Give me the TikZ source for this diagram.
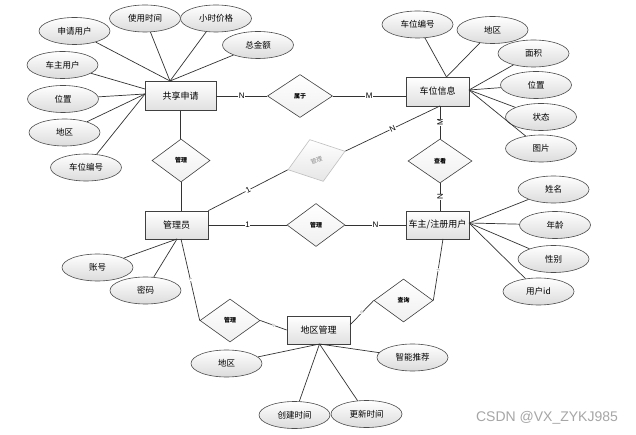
\documentclass[tikz,border=0pt]{standalone}
\usepackage{fontspec}
\setsansfont{Liberation Sans}
\newfontfamily\cjk{Noto Sans CJK SC}
\usetikzlibrary{shapes.geometric}
\begin{document}
\begin{tikzpicture}[x=1pt,y=-1pt,
  conn/.style={draw=black!80,line width=0.7pt},
  attr/.style={ellipse,draw=black!70,line width=0.6pt,top color=white,bottom color=black!14,
    minimum width=71pt,minimum height=27pt,inner sep=0pt,font=\cjk\fontsize{8.5}{10}\selectfont},
  ent/.style={rectangle,draw=black!75,line width=0.7pt,top color=white,bottom color=black!12,
    minimum width=63pt,minimum height=29pt,inner sep=0pt,font=\cjk\fontsize{9}{11}\selectfont},
  rel/.style={diamond,draw=black!75,line width=0.6pt,top color=white,bottom color=black!6,
    minimum width=58pt,minimum height=43pt,inner sep=0pt,font=\cjk\bfseries\fontsize{6}{7}\selectfont},
  card/.style={fill=white,inner sep=0.5pt,font=\sffamily\fontsize{8}{9}\selectfont},
  tiny/.style={fill=white,inner sep=0.3pt,text=black!50,font=\sffamily\fontsize{4}{5}\selectfont}]
\useasboundingbox (0,0) rectangle (636,435);
\fill[white] (0,0) rectangle (636,435);

% entities
\node[ent,minimum width=71pt] (sq) at (180.5,96) {共享申请};
\node[ent] (cw) at (437.5,91.5) {车位信息};
\node[ent,minimum height=28pt] (gly) at (176.5,225) {管理员};
\node[ent,minimum height=28pt] (cz) at (437.5,225) {车主/注册用户};
\node[ent,minimum height=28pt] (dq) at (318.5,330) {地区管理};

% relationships
\node[rel,minimum width=65pt] (sy) at (300,96) {属于};
\node[rel] (gl1) at (181,160.5) {管理};
\node[rel,minimum width=60pt,minimum height=44pt,rotate=18,draw=black!25,
      top color=white,bottom color=black!10,text=black!45,font=\cjk\fontsize{6}{7}\selectfont] (glg) at (316.5,160.5) {管理};
\node[rel,minimum width=64pt,minimum height=44pt] (ck) at (440,161) {查看};
\node[rel] (gl2) at (316,225) {管理};
\node[rel,minimum width=60pt] (gl3) at (230,320.5) {管理};
\node[rel,minimum width=59pt] (cx) at (403.5,300.5) {查询};

% attributes of 共享申请
\node[attr] (a1) at (74.5,31) {申请用户};
\node[attr] (a2) at (145,18.5) {使用时间};
\node[attr] (a3) at (216,18.5) {小时价格};
\node[attr] (a4) at (258,45) {总金额};
\node[attr] (a5) at (62.5,65) {车主用户};
\node[attr] (a6) at (63,99) {位置};
\node[attr] (a7) at (64.5,132.5) {地区};
\node[attr] (a8) at (86,167.5) {车位编号};
% attributes of 车位信息
\node[attr] (b1) at (417.5,24.5) {车位编号};
\node[attr] (b2) at (492.5,30) {地区};
\node[attr] (b3) at (533.5,53.5) {面积};
\node[attr] (b4) at (536,85) {位置};
\node[attr] (b5) at (541,117) {状态};
\node[attr] (b6) at (541,148.5) {图片};
% attributes of 车主/注册用户
\node[attr] (c1) at (553.5,189.5) {姓名};
\node[attr] (c2) at (555,225) {年龄};
\node[attr] (c3) at (553.5,259) {性别};
\node[attr] (c4) at (538.5,291.5) {用户id};
% attributes of 管理员
\node[attr] (d1) at (97.5,267.5) {账号};
\node[attr] (d2) at (145.5,290.5) {密码};
% attributes of 地区管理
\node[attr] (e1) at (226.5,363.5) {地区};
\node[attr] (e2) at (294.5,415) {创建时间};
\node[attr] (e3) at (366.5,414) {更新时间};
\node[attr] (e4) at (412.5,357.5) {智能推荐};

% convergence points
\coordinate (sqT) at (170,81);
\coordinate (sqL1) at (145,89);
\coordinate (sqL2) at (145,94);
\coordinate (cwT) at (446.5,77);
\coordinate (cwR) at (469,90);
\coordinate (cwB) at (440,106);
\coordinate (czR) at (469,223);
\coordinate (czB) at (443,239);
\coordinate (glyB) at (177,239);
\coordinate (glyB2) at (181,239);
\coordinate (dqB) at (319.5,344);
\coordinate (dqR) at (350,325);

% attribute connectors
\foreach \a in {a1,a2,a3,a4} \draw[conn] (\a) -- (sqT);
\draw[conn] (a5) -- (sqL1);
\foreach \a in {a6,a7,a8} \draw[conn] (\a) -- (sqL2);
\foreach \a in {b1,b2} \draw[conn] (\a) -- (cwT);
\foreach \a in {b3,b4,b5,b6} \draw[conn] (\a) -- (cwR);
\foreach \a in {c1,c2,c3,c4} \draw[conn] (\a) -- (czR);
\foreach \a in {d1,d2} \draw[conn] (\a) -- (glyB);
\foreach \a in {e1,e2,e3,e4} \draw[conn] (\a) -- (dqB);

% relationship connectors
\draw[conn] (sq.east) -- node[card] (l1) {N} (sy.west);
\draw[conn] (sy.east) -- node[card] (l2) {M} (sy.east -| cw.west);
\draw[conn] (sq.south) -- (sq.south |- gl1.north);
\draw[conn] (gl1.south) -- (gl1.south |- gly.north);
\draw[conn] (gly.north east) -- node[card,sloped] (l3) {1} (glg.west);
\draw[conn] (glg.east) -- node[card,sloped] (l4) {N} (cwB);
\draw[conn] (cwB) -- node[card,rotate=90] (l5) {M} (ck.north);
\draw[conn] (ck.south) -- node[card,rotate=90] (l6) {N} (ck.south |- cz.north);
\draw[conn] (gly.east) -- node[card] (l7) {1} (gl2.west);
\draw[conn] (gl2.east) -- node[card] (l8) {N} (cz.west);
\draw[conn] (glyB2) -- node[tiny,sloped] (l9) {1} (gl3.west);
\draw[conn] (gl3.east) -- node[tiny,sloped] (l10) {N} (dq.west);
\draw[conn] (dqR) -- node[tiny,sloped] (l11) {N} (cx.west);
\draw[conn] (cx.east) -- node[tiny,sloped] (l12) {1} (czB);

% watermark
\node[text=black!35,font=\sffamily\fontsize{14}{16}\selectfont] (wm) at (547,418) {CSDN @VX\_ZYKJ985};
\end{tikzpicture}
\end{document}
